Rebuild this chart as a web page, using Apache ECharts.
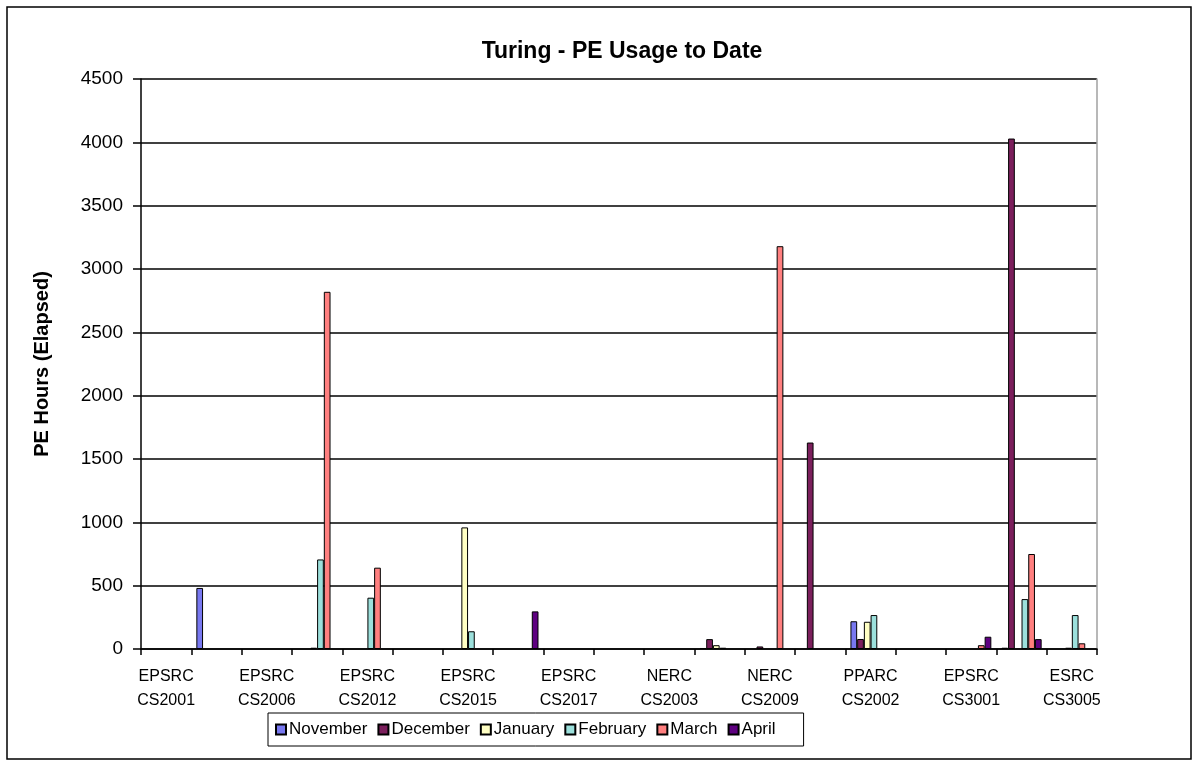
<!DOCTYPE html>
<html>
<head>
<meta charset="utf-8">
<script src="https://cdn.jsdelivr.net/npm/echarts@6/dist/echarts.min.js"></script>
<style>
  html, body { margin: 0; padding: 0; background: #ffffff; }
  #chart { width: 1198px; height: 766px; }
</style>
</head>
<body>
<div id="chart"></div>
<script>
// Projects along the x axis; only every other one carries a visible label.
const projects = [
  'EPSRC\nCS2001', '', 'EPSRC\nCS2006', '', 'EPSRC\nCS2012', '',
  'EPSRC\nCS2015', '', 'EPSRC\nCS2017', '', 'NERC\nCS2003', '',
  'NERC\nCS2009', '', 'PPARC\nCS2002', '', 'EPSRC\nCS3001', '',
  'ESRC\nCS3005'
];

const months = ['November', 'December', 'January', 'February', 'March', 'April'];

// PE hours (elapsed) per project, one array per month
const november = [null, 482, null, null, null, null, null, null, null, null, null, 8, null, null, 219, null, null, 10, null];
const december = [null, null, null, null, null, null, null, null, null, null, null, 78, 20, 1630, 79, null, null, 4030, null];
const january  = [null, null, null, 10, null, null, 960, null, null, null, null, 30, null, null, 215, null, null, null, 10];
const february = [null, null, null, 707, 405, null, 140, null, null, null, null, 10, null, null, 268, null, null, 394, 268];
const march    = [null, null, null, 2820, 642, null, null, null, null, null, null, null, 3180, null, null, null, 30, 750, 45];
const april    = [null, null, null, null, null, null, null, 297, null, null, null, null, null, null, null, null, 97, 78, null];

const yTicks = { min: 0, max: 4500, step: 500 };

const monthColors = ['#7878F0', '#7B1F5C', '#FFFFC4', '#9CE0DC', '#FF7F7F', '#5E0080'];
const monthValues = [november, december, january, february, march, april];

const FONT = 'Liberation Sans, Arial, sans-serif';

const chart = echarts.init(document.getElementById('chart'), null, { renderer: 'canvas' });

chart.setOption({
  backgroundColor: '#ffffff',
  animation: false,
  textStyle: { fontFamily: FONT, color: '#000' },
  title: {
    text: 'Turing - PE Usage to Date',
    left: 617,
    top: 35,
    textAlign: 'center',
    textStyle: { fontFamily: FONT, fontSize: 23, fontWeight: 'bold', color: '#000' }
  },
  graphic: [{
    type: 'rect',
    silent: true,
    shape: { x: 7, y: 7, width: 1184, height: 752 },
    style: { fill: 'none', stroke: '#000', lineWidth: 1.5 }
  }],
  grid: { left: 141, right: 101, top: 79, bottom: 117, containLabel: false },
  legend: {
    data: months,
    left: 268,
    top: 713,
    orient: 'horizontal',
    itemWidth: 10,
    itemHeight: 10,
    itemGap: 10,
    padding: [8, 28, 8, 7],
    borderColor: '#000',
    borderWidth: 1,
    icon: 'rect',
    textStyle: { fontFamily: FONT, fontSize: 17, color: '#000', padding: [0, 0, 0, -2] }
  },
  xAxis: {
    type: 'category',
    data: projects,
    boundaryGap: true,
    axisLine: { show: true, lineStyle: { color: '#000', width: 1.5 } },
    axisTick: { show: true, interval: 0, length: 6, alignWithLabel: false, lineStyle: { color: '#000', width: 1.5 } },
    axisLabel: { interval: 1, margin: 16, fontFamily: FONT, fontSize: 16, lineHeight: 24, color: '#000' },
    splitLine: { show: false }
  },
  yAxis: [{
    type: 'value',
    min: yTicks.min,
    max: yTicks.max,
    interval: yTicks.step,
    name: 'PE Hours (Elapsed)',
    nameLocation: 'middle',
    nameGap: 89,
    nameTextStyle: { fontFamily: FONT, fontSize: 20, fontWeight: 'bold', color: '#000' },
    axisLine: { show: true, lineStyle: { color: '#000', width: 1.5 } },
    axisTick: { show: true, length: 8, lineStyle: { color: '#000', width: 1.5 } },
    axisLabel: { margin: 18, fontFamily: FONT, fontSize: 19, color: '#000', formatter: v => String(v) },
    splitLine: { show: true, lineStyle: { color: '#000', width: 1.5 } }
  }, {
    type: 'value',
    position: 'right',
    min: yTicks.min,
    max: yTicks.max,
    interval: yTicks.step,
    axisLine: { show: true, lineStyle: { color: '#A0A0A0', width: 1.5 } },
    axisTick: { show: false },
    axisLabel: { show: false },
    splitLine: { show: false }
  }],
  series: months.map((m, i) => ({
    name: m,
    type: 'bar',
    yAxisIndex: 0,
    data: monthValues[i],
    barGap: '0%',
    barCategoryGap: '20%',
    itemStyle: { color: monthColors[i], borderColor: '#000', borderWidth: 1 }
  }))
});
</script>
</body>
</html>
